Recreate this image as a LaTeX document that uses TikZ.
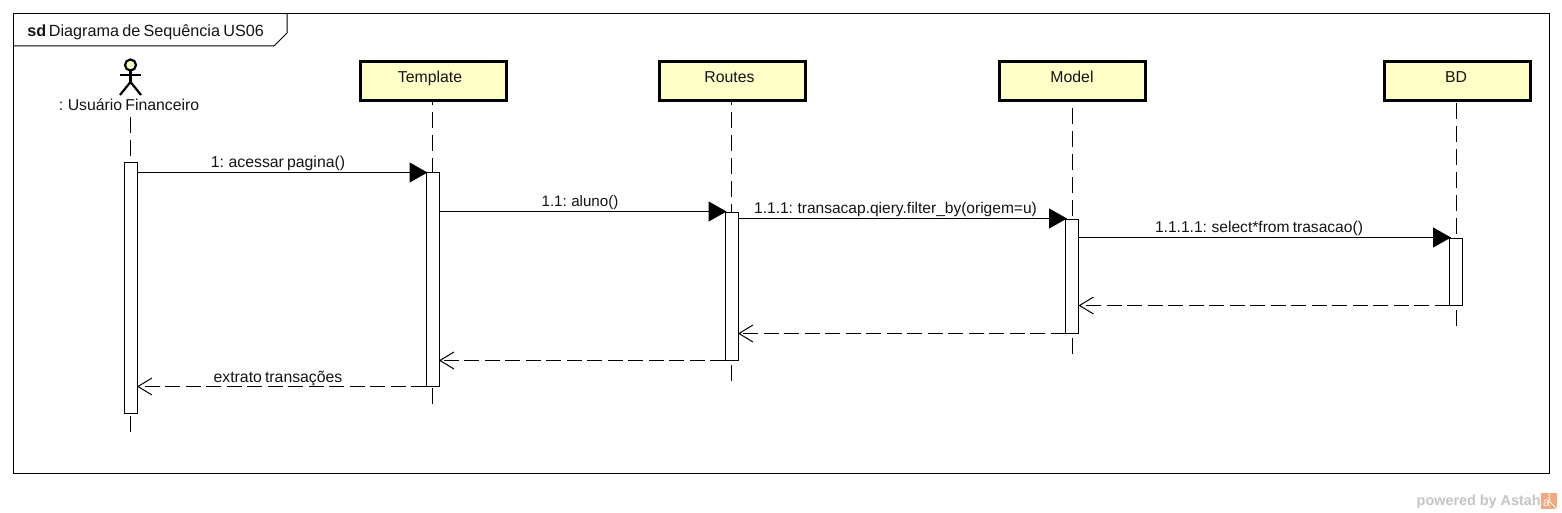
\documentclass[tikz,border=0pt]{standalone}
\usepackage{fontspec}
\setmainfont[WordSpace=0.72]{Liberation Sans}
\newfontfamily\wmfont{Liberation Sans}
\usetikzlibrary{arrows.meta}
\definecolor{boxfill}{HTML}{FFFFC8}
\definecolor{wmgray}{HTML}{C4C4C4}
\definecolor{wmorange}{HTML}{F2A97E}
\def\px{0.75pt}
\tikzset{
  txt/.style={font=\fontsize{11.85pt}{13pt}\selectfont, inner sep=0pt, text=black!92, anchor=base},
  lifebox/.style={draw=black, fill=boxfill, line width=3*\px, minimum width=146*\px, minimum height=39*\px, anchor=north west, inner sep=0pt, outer sep=0pt},
  bar/.style={draw=black, fill=white, line width=1*\px, minimum width=13*\px, anchor=north west, inner sep=0pt, outer sep=0pt},
  lifeline/.style={draw=black, line width=1*\px, dash pattern=on 16*\px off 7*\px},
  call/.style={draw=black, line width=1.2*\px, shorten >=-1.5*\px, -{Triangle[length=18*\px,width=20*\px,fill=black]}},
  ret/.style={draw=black, line width=1*\px, dash pattern=on 15*\px off 5.5*\px, -{Straight Barb[length=14*\px,width=17*\px,line width=1*\px]}},
  limb/.style={draw=black, line width=2.2*\px},
}
\begin{document}
\begin{tikzpicture}[x=0.75pt,y=-0.75pt]
\useasboundingbox (0,0) rectangle (1562,513);
% frame
\node[draw=black, line width=1*\px, minimum width=1536*\px, minimum height=460*\px, anchor=north west, inner sep=0pt, outer sep=0pt] (frame) at (13.5,13.5) {};
\coordinate (tabA) at (287,13.5);
\coordinate (tabB) at (287,33);
\coordinate (tabC) at (274,46);
\coordinate (tabD) at (13.5,46);
\draw[line width=1*\px] (tabA) -- (tabB) -- (tabC) -- (tabD);
\node[txt, anchor=base west, font=\fontsize{12.15pt}{13pt}\selectfont] (title) at (27,37) {\textbf{sd}\hspace{2pt}Diagrama de Sequência US06};
% lifeline ends
\coordinate (endA) at (130.5,432);
\coordinate (endT) at (432.5,404);
\coordinate (endR) at (731,381);
\coordinate (endM) at (1072,354);
\coordinate (endD) at (1456.5,326);
% actor
\coordinate (hip) at (130.5,82);
\coordinate (armL) at (120,75);
\coordinate (armR) at (141,75);
\coordinate (footL) at (120,95);
\coordinate (footR) at (141,95);
\node[draw=black, fill=boxfill, line width=2.2*\px, circle, minimum size=11*\px, inner sep=0pt, outer sep=0pt] (head) at (130.5,65) {};
\draw[limb] (head.south) -- (hip);
\draw[limb] (armL) -- (armR);
\draw[limb] (footL) -- (hip) -- (footR);
\node[txt] (actor) at (129,111) {: Usuário Financeiro};
% boxes
\node[lifebox] (T) at (360,61.5) {};
\node[lifebox] (R) at (659,61.5) {};
\node[lifebox] (M) at (999.5,61.5) {};
\node[lifebox] (D) at (1384,61.5) {};
\node[txt] at (430,83) {Template};
\node[txt] at (729.5,83) {Routes};
\node[txt] at (1072,83) {Model};
\node[txt] at (1456,83) {BD};
% lifelines
\coordinate (startA) at (130.5,114);
\draw[lifeline] (endA) -- (startA);
\draw[lifeline] (endT) -- (endT |- T.south);
\draw[lifeline] (endR) -- (endR |- R.south);
\draw[lifeline] (endM) -- (endM |- M.south);
\draw[lifeline] (endD) -- (endD |- D.south);
% activation bars
\node[bar, minimum height=250*\px] (bA) at (124,163) {};
\node[bar, minimum height=214*\px] (bT) at (426,172.5) {};
\node[bar, minimum height=148*\px] (bR) at (725,212.5) {};
\node[bar, minimum height=114*\px] (bM) at (1065.5,219.5) {};
\node[bar, minimum height=67*\px] (bD) at (1449.5,238.5) {};
% messages
\draw[call] (bA.east |- bT.north west) -- (bT.north west);
\draw[call] ([yshift=0.75pt]bT.east |- bR.north west) -- ([yshift=0.75pt]bR.north west);
\draw[call] ([yshift=0.75pt]bR.east |- bM.north west) -- ([yshift=0.75pt]bM.north west);
\draw[call] ([yshift=0.75pt]bM.east |- bD.north west) -- ([yshift=0.75pt]bD.north west);
\draw[ret] (bD.south west) -- (bM.east |- bD.south west);
\draw[ret] (bM.south west) -- (bR.east |- bM.south west);
\draw[ret] (bR.south west) -- (bT.east |- bR.south west);
\draw[ret] (bT.south west) -- (bA.east |- bT.south west);
% labels
\node[txt] (m1) at (278,167.5) {1: acessar pagina()};
\node[txt, font=\fontsize{11.35pt}{13pt}\selectfont] (m2) at (580,207) {1.1: aluno()};
\node[txt, font=\fontsize{11.65pt}{13pt}\selectfont] (m3) at (895.5,213.5) {1.1.1: transacap.qiery.filter\_by(origem=u)};
\node[txt, font=\fontsize{11.7pt}{13pt}\selectfont] (m4) at (1259,233) {1.1.1.1: select*from trasacao()};
\node[txt] (m5) at (278,382) {extrato transações};
% watermark
\node[font=\wmfont\bfseries\fontsize{10.8pt}{12pt}\selectfont, text=wmgray, inner sep=0pt, anchor=base east] (wm) at (1541,505) {powered by Astah};
\node[fill=wmorange, minimum size=16*\px, inner sep=0pt, outer sep=0pt, anchor=west] (icon) at (1541,501) {};
\node[font=\fontsize{9pt}{9pt}\selectfont, text=white, inner sep=0pt] (iconA) at (1546.5,503.5) {a};
\draw[white, line width=1*\px] (icon.north) -- (icon.center) -- (icon.south east);
\end{tikzpicture}
\end{document}
